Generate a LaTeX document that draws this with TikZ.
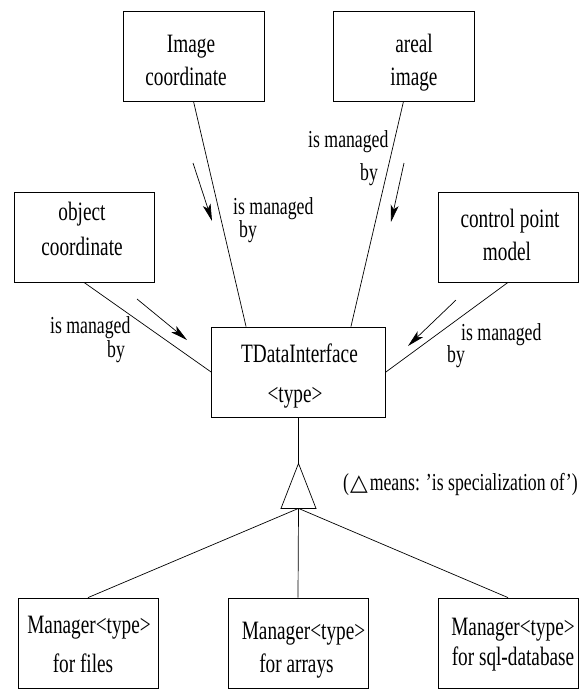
\documentclass[tikz,border=0pt]{standalone}
\usepackage{fontspec}
\setmainfont[FakeStretch=0.727]{Liberation Serif}
\newfontfamily\symfont{DejaVu Sans}
\usetikzlibrary{arrows.meta,calc}
\begin{document}
\begin{tikzpicture}[x=1pt,y=-1pt,
  box/.style={draw, line width=0.8pt, inner sep=0pt, minimum height=90},
  boxtxt/.style={font=\fontsize{26.5}{26.5}\selectfont, inner sep=0pt, anchor=base},
  lbl/.style={font=\fontsize{24.4}{24.4}\selectfont, inner sep=0pt, anchor=base west},
  conn/.style={line width=0.7pt},
  flow/.style={line width=0.7pt, -{Stealth[length=17pt,width=8pt,inset=4pt]}}]
\useasboundingbox (0,0) rectangle (583,689);

% boxes
\node[box, minimum width=141] (imgc) at (193.5,56) {};
\node[box, minimum width=141] (areal) at (403.5,56) {};
\node[box, minimum width=140] (objc) at (84,237) {};
\node[box, minimum width=140] (ctrl) at (508,237) {};
\node[box, minimum width=174] (tdi) at (298.5,372) {};
\node[box, minimum width=140] (mfiles) at (88,643) {};
\node[box, minimum width=140] (marrays) at (298,643) {};
\node[box, minimum width=140] (msql) at (508,643) {};

% box texts
\node[boxtxt] (t1a) at (191,52) {Image};
\node[boxtxt] (t1b) at (186,85) {coordinate};
\node[boxtxt] (t2a) at (414,52) {areal};
\node[boxtxt] (t2b) at (414,85) {image};
\node[boxtxt] (t3a) at (82,220) {object};
\node[boxtxt] (t3b) at (82,255) {coordinate};
\node[boxtxt] (t4a) at (510,227) {control point};
\node[boxtxt] (t4b) at (507,260) {model};
\node[boxtxt] (t5a) at (299.5,362) {TDataInterface};
\node[boxtxt] (t5b) at (295,402) {<type>};
\node[boxtxt] (t6a) at (89,633) {Manager<type>};
\node[boxtxt] (t6b) at (83,672) {for files};
\node[boxtxt] (t7a) at (303.5,639) {Manager<type>};
\node[boxtxt] (t7b) at (296.5,672) {for arrays};
\node[boxtxt] (t8a) at (513,635) {Manager<type>};
\node[boxtxt] (t8b) at (513,665) {for sql-database};

% connectors to TDataInterface
\draw[conn] (imgc.south) -- ($(tdi.north west)!0.2!(tdi.north east)$);
\draw[conn] (areal.south) -- ($(tdi.north west)!0.8!(tdi.north east)$);
\draw[conn] (objc.south) -- (tdi.west);
\draw[conn] (ctrl.south) -- (tdi.east);

% specialization triangle
\coordinate (apex) at ($(tdi.south)+(0,46)$);
\coordinate (bl) at ($(apex)+(-17.5,45)$);
\coordinate (br) at ($(apex)+(17.5,45)$);
\coordinate (base) at ($(apex)+(0,45)$);
\draw[conn] (tdi.south) -- (apex);
\draw[conn] (apex) -- (bl) -- (br) -- cycle;
\draw[conn] (base) -- (mfiles.north);
\draw[conn] (base) -- (marrays.north);
\draw[conn] (base) -- (msql.north);

% direction arrows
\coordinate (a1s) at (193,163); \coordinate (a1e) at (212,221);
\coordinate (a2s) at (404,163); \coordinate (a2e) at (391,222);
\coordinate (a3s) at (137,299); \coordinate (a3e) at (187,340);
\coordinate (a4s) at (456,300); \coordinate (a4e) at (408,346);
\draw[flow] (a1s) -- (a1e);
\draw[flow] (a2s) -- (a2e);
\draw[flow] (a3s) -- (a3e);
\draw[flow] (a4s) -- (a4e);

% labels
\node[lbl] (l1a) at (233,214) {is managed};
\node[lbl] (l1b) at (239,237) {by};
\node[lbl] (l2a) at (308,147) {is managed};
\node[lbl] (l2b) at (360,180) {by};
\node[lbl] (l3a) at (50,333) {is managed};
\node[lbl] (l3b) at (107,357) {by};
\node[lbl] (l4a) at (461,340) {is managed};
\node[lbl] (l4b) at (447,362) {by};

% legend
\node[lbl] (legend) at (343,490) {(\kern1pt{\symfont\fontsize{23}{23}\selectfont △}\kern2pt means: 'is specialization of')};
\end{tikzpicture}
\end{document}
